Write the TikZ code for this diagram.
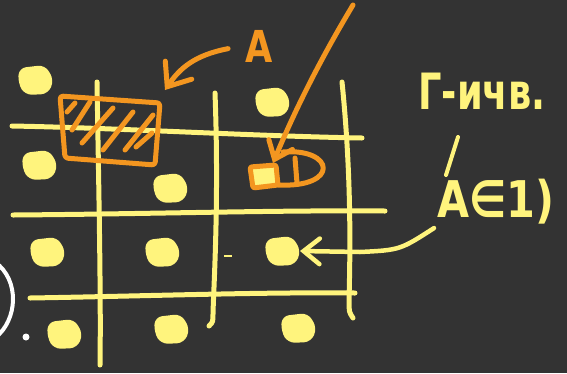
\documentclass[tikz,border=0pt]{standalone}
\usepackage{fontspec}
\setmainfont{DejaVu Sans}
\usetikzlibrary{arrows.meta}
\definecolor{board}{RGB}{51, 51, 51}
\definecolor{chalk}{RGB}{255, 244, 125}
\definecolor{marker}{RGB}{243, 150, 32}

\tikzset{
	gridline/.style={chalk, line width=5pt, line cap=round, line join=round},
	pen/.style={marker, line width=5pt, line cap=round, line join=round},
	barb/.style={-{Straight Barb[length=#1, width=1.6*#1, line cap=round]}}
}

\begin{document}
\begin{tikzpicture}[x=1pt, y=-1pt]
		\fill[board] (0,0) rectangle (567,373);
		\useasboundingbox (0,0) rectangle (567,373);

		% grid
		\draw[gridline] (12,126) .. controls (120,128) and (250,136) .. (362,138);
		\draw[gridline] (13,215) .. controls (150,214) and (280,210) .. (385,211);
		\draw[gridline] (30,298) .. controls (150,296) and (260,292) .. (355,293);
		\draw[gridline] (97,82) .. controls (99,200) and (101,300) .. (100,365);
		\draw[gridline] (215,93) .. controls (219,200) and (214,280) .. (213,313) .. controls (213,322) .. (209,326);
		\draw[gridline] (342,82) .. controls (352,180) and (350,260) .. (349,300) .. controls (349,312) .. (353,318);

		% dots
		\foreach \bx/\by [count=\i] in {36/80, 40/165, 171/188, 273/102, 48/252, 163/252, 283/251, 65/334, 172/329, 299/328} {
			\coordinate (b\i) at (\bx,\by);
			\fill[chalk, rounded corners=7pt] (\bx-17,\by-12) -- (\bx+9,\by-15) -- (\bx+18,\by) -- (\bx+12,\by+14) -- (\bx-11,\by+15) -- (\bx-18,\by+3) -- cycle;
		}
		\draw[chalk, line width=1.5pt] (224,256) -- (232,256);

		% hatched cell
		\draw[pen, rounded corners=3pt] (60,96) -- (160,103) -- (155,165) -- (65,158) -- cycle;
		\foreach \ax/\ay/\bx/\by in {67/112/75/103, 72/130/90/102, 82/143/113/108, 103/150/133/112, 125/150/153/115, 136/147/152/133}
			\draw[pen] (\ax,\ay) -- (\bx,\by);

		% labels
		\node[marker, font=\fontsize{44}{44}\selectfont\bfseries] (lblA) at (259,46) {\scalebox{0.8}[1]{A}};
		\node[chalk, font=\fontsize{40}{40}\selectfont\bfseries] (lblG) at (482,91) {\scalebox{0.92}[1.25]{Г-ичв.}};
		\node[chalk, font=\fontsize{46}{46}\selectfont\bfseries] (lblIn) at (496,202) {\scalebox{0.9}[1.1]{A∈1)}};
		\draw[gridline, line width=4pt] (458,137) -- (446,175);

		\draw[pen, barb=20pt, shorten <=14pt] (lblA.west) .. controls (195,55) and (180,68) .. (165,90);

		% pointer to the small square
		\draw[pen, barb=16pt] (353,5) .. controls (320,60) and (295,110) .. (273,163);
		\draw[pen, fill=chalk, rounded corners=2pt] (250,167) -- (276,165) -- (278,185) -- (253,188) -- cycle;
		\draw[pen] (295,158) -- (297,183);
		\draw[pen] (283,152) .. controls (335,148) and (340,188) .. (278,185);

		\draw[gridline, line width=4.5pt, barb=16pt] (lblIn.south west) .. controls (400,250) .. (360,252) -- ([xshift=17pt]b7);

		\draw[white, line width=4pt] (-5,262) .. controls (20,280) and (18,320) .. (-5,338);
		\fill[white] (26,337) circle (3.5);
	\end{tikzpicture}
\end{document}
